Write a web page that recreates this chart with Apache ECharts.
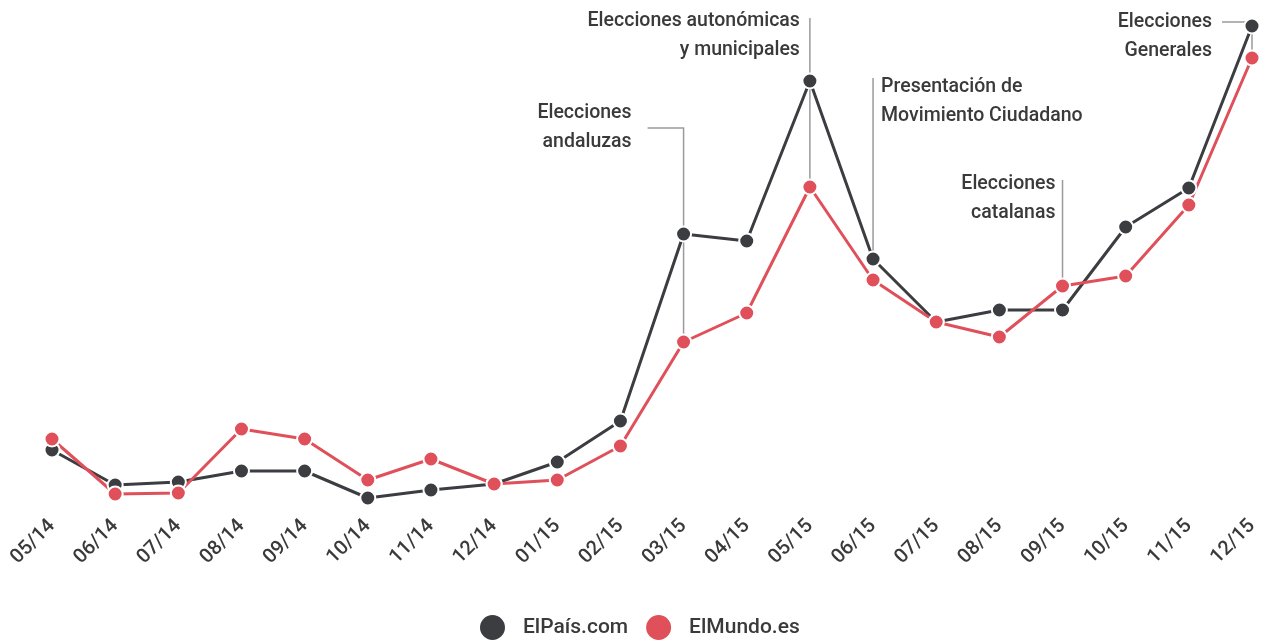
<!DOCTYPE html>
<html>
<head>
<meta charset="utf-8">
<script src="https://cdn.jsdelivr.net/npm/echarts@6/dist/echarts.min.js"></script>
<style>
html,body{margin:0;padding:0;background:#fff;}
#chart{width:1267px;height:641px;}
</style>
</head>
<body>
<div id="chart"></div>
<script>
// ---- data ----
var months = ['05/14','06/14','07/14','08/14','09/14','10/14','11/14','12/14','01/15','02/15','03/15','04/15','05/15','06/15','07/15','08/15','09/15','10/15','11/15','12/15'];
var elPais = [12, 5, 5.6, 7.8, 7.8, 2.4, 4, 5.2, 9.6, 17.8, 55.2, 53.8, 85.8, 50.2, 37.6, 40, 40, 56.6, 64.4, 96.8];
var elMundo = [14.2, 3.2, 3.4, 16.2, 14.2, 6, 10.2, 5.2, 6, 12.8, 33.6, 39.4, 64.6, 46, 37.6, 34.6, 44.8, 46.8, 61, 90.4];
var seriesNames = ['ElPaís.com', 'ElMundo.es'];
// annotations: category, series anchor, top of leader (value), text
var annCats = ['03/15', '05/15', '06/15', '09/15', '12/15'];
var annSeries = [1, 1, 0, 1, 1];
var annTop = [76.4, 98.4, 86.4, 66, 97.6];
var annText = ['Elecciones\nandaluzas', 'Elecciones autonómicas\ny municipales', 'Presentación de\nMovimiento Ciudadano', 'Elecciones\ncatalanas', 'Elecciones\nGenerales'];

// ---- layout of annotation labels (pixels) ----
var annLayout = [
  {hook: 36, dx: -52, dy: -14.5},
  {hook: 0, dx: -10, dy: 3},
  {hook: 0, dx: 8, dy: 9},
  {hook: 0, dx: -7, dy: 4},
  {hook: 30, dx: -40, dy: 0}
];
var annAlign = ['right', 'right', 'left', 'right', 'right'];

var dark = '#3b3d41', red = '#e0505a';
var chart = echarts.init(document.getElementById('chart'), null, {renderer: 'canvas'});
var font = 'Roboto, "Noto Sans", sans-serif';

function mkSeries(name, data, color) {
  return {
    name: name, type: 'line', data: data,
    symbol: 'circle', symbolSize: 15,
    lineStyle: {color: color, width: 3},
    itemStyle: {color: color, borderColor: '#fff', borderWidth: 2},
    emphasis: {disabled: true},
    animation: false, z: 3
  };
}

chart.setOption({
  backgroundColor: '#fff',
  animation: false,
  grid: {left: 52, right: 15, top: 10, bottom: 131, containLabel: false},
  xAxis: {
    type: 'category', data: months, boundaryGap: false,
    axisLine: {show: false}, axisTick: {show: false}, splitLine: {show: false},
    axisLabel: {rotate: 45, margin: 13, fontSize: 20, fontWeight: 500, color: '#3a3a3a', fontFamily: font, interval: 0}
  },
  yAxis: {
    type: 'value', min: 0, max: 100, show: false
  },
  legend: {
    data: seriesNames, top: 608, left: 473,
    icon: 'circle', itemWidth: 27, itemHeight: 27, itemGap: 16,
    textStyle: {fontSize: 21, fontWeight: 500, color: '#3a3a3a', fontFamily: font, padding: [0, 0, 0, 12]}
  },
  series: [mkSeries(seriesNames[0], elPais, dark), mkSeries(seriesNames[1], elMundo, red)]
});

var elements = [];
var lineStyle = {stroke: '#9a9a9a', lineWidth: 1.5, fill: null};
for (var i = 0; i < annCats.length; i++) {
  var idx = months.indexOf(annCats[i]);
  var s = annSeries[i];
  var v = (s === 0 ? elPais : elMundo)[idx];
  var x = chart.convertToPixel({xAxisIndex: 0}, idx);
  var yBot = chart.convertToPixel({yAxisIndex: 0}, v);
  var yTop = chart.convertToPixel({yAxisIndex: 0}, annTop[i]);
  var L = annLayout[i];
  var pts = L.hook ? [[x - L.hook, yTop], [x, yTop], [x, yBot]] : [[x, yTop], [x, yBot]];
  elements.push({type: 'polyline', z: 0, silent: true, shape: {points: pts}, style: lineStyle});
  var lines = annText[i].split('\n');
  for (var j = 0; j < lines.length; j++) {
    elements.push({type: 'text', z: 5, silent: true,
      x: x + L.dx, y: yTop + L.dy + j * 29,
      style: {text: lines[j], align: annAlign[i], verticalAlign: 'middle',
        fontSize: 19.5, fontWeight: 500, fontFamily: font, fill: '#3a3a3a'}});
  }
}
chart.setOption({graphic: {elements: elements}});
</script>
</body>
</html>
